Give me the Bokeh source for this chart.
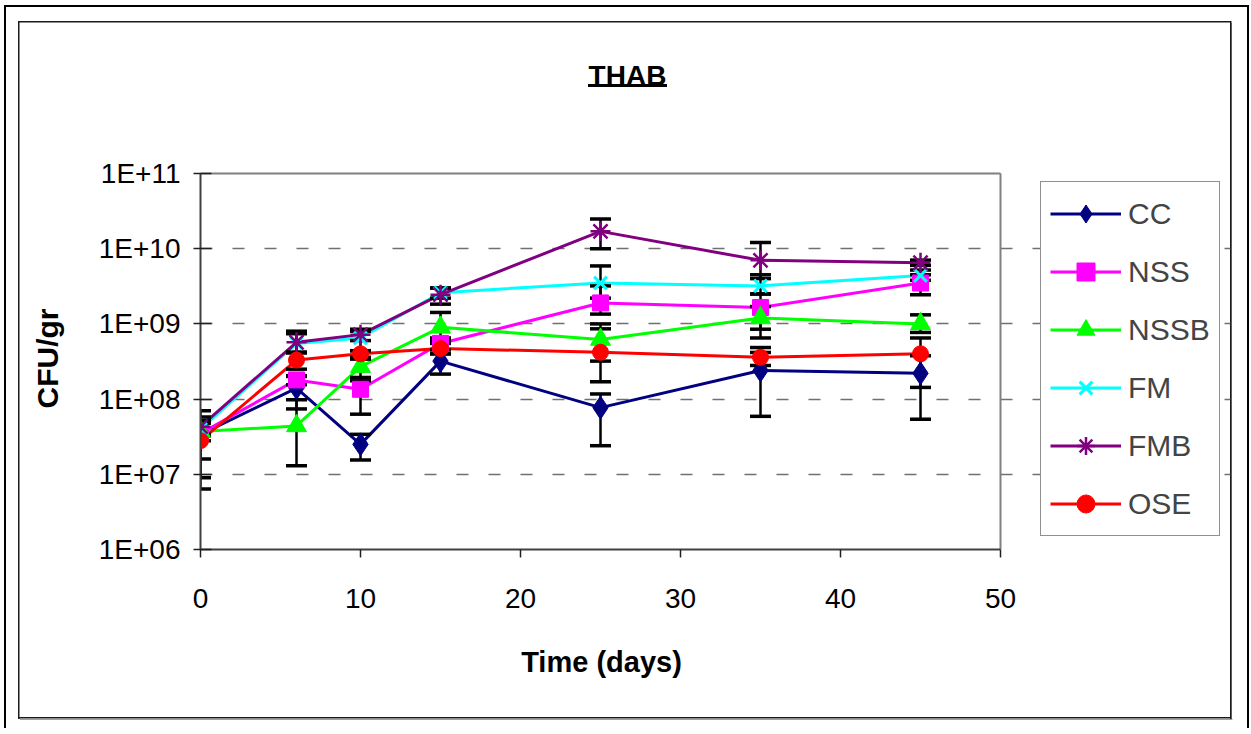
import math
from bokeh.plotting import figure
from bokeh.models import Range1d, FixedTicker, Legend, LegendItem, Label
from bokeh.embed import file_html
from bokeh.resources import INLINE

# ---------------- data ----------------
days = [0, 6, 10, 15, 25, 35, 45]

cc = [3.4e7, 1.4e8, 2.5e7, 3.2e8, 7.7e7, 2.4e8, 2.2e8]
nss = [3.5e7, 1.8e8, 1.35e8, 5.5e8, 1.9e9, 1.65e9, 3.5e9]
nssb = [3.7e7, 4.4e7, 2.7e8, 9.0e8, 6.2e8, 1.2e9, 1.0e9]
fm = [4.0e7, 5.5e8, 6.5e8, 2.6e9, 3.5e9, 3.2e9, 4.4e9]
fmb = [4.3e7, 5.7e8, 7.2e8, 2.45e9, 1.7e10, 7.0e9, 6.5e9]
ose = [2.8e7, 3.3e8, 4.0e8, 4.7e8, 4.2e8, 3.6e8, 4.0e8]

cc_lo = [1.6e7, 7.4e7, 1.55e7, 2.15e8, 2.4e7, 5.9e7, 5.4e7]
cc_hi = [5.8e7, 2.0e8, 3.4e7, 4.0e8, 1.17e8, 4.17e8, 3.77e8]
nss_lo = [9.0e6, 1.55e8, 6.3e7, 4.5e8, 1.35e9, 8.5e8, 2.44e9]
nss_hi = [7.0e7, 2.05e8, 1.94e8, 6.5e8, 3.2e9, 2.5e9, 4.5e9]
nssb_lo = [2.8e7, 1.3e7, 1.75e8, 6.0e8, 3.2e8, 6.5e8, 7.7e8]
nssb_hi = [4.8e7, 9.8e7, 3.4e8, 1.42e9, 1.0e9, 1.7e9, 1.32e9]
fm_lo = [3.2e7, 4.2e8, 4.4e8, 2.2e9, 2.2e9, 2.5e9, 3.8e9]
fm_hi = [4.8e7, 7.4e8, 8.0e8, 3.0e9, 5.9e9, 4.5e9, 5.2e9]
fmb_lo = [3.4e7, 4.1e8, 6.0e8, 1.83e9, 1.0e10, 4.0e9, 6.0e9]
fmb_hi = [5.2e7, 8.0e8, 8.5e8, 3.0e9, 2.48e10, 1.21e10, 7.05e9]
ose_lo = [6.4e6, 2.5e8, 3.6e8, 4.0e8, 1.7e8, 2.8e8, 1.43e8]
ose_hi = [5.0e7, 4.2e8, 4.4e8, 5.5e8, 8.6e8, 4.85e8, 6.5e8]

series_names = ["CC", "NSS", "NSSB", "FM", "FMB", "OSE"]
x_ticks = [0, 10, 20, 30, 40, 50]
x_min, x_max = 0, 50
y_ticks = [1e6, 1e7, 1e8, 1e9, 1e10, 1e11]
y_tick_labels = ["1E+06", "1E+07", "1E+08", "1E+09", "1E+10", "1E+11"]
y_min, y_max = 1e6, 1e11
title_text = "THAB"
x_title = "Time (days)"
y_title = "CFU/gr"

# ---------------- layout / styles ----------------
FONT = "Liberation Sans"
W, H = 1250, 728
PLOT_L, PLOT_R, PLOT_T, PLOT_B = 200, 1000, 173, 549   # axes box in page pixels
FRAME_R, FRAME_T = 1230, 40                            # frame extended to hold legend/title
px_per_x = (PLOT_R - PLOT_L) / (x_max - x_min)
px_per_dec = (PLOT_B - PLOT_T) / 5.0
x_end = x_min + (FRAME_R - PLOT_L) / px_per_x
y_end = y_max * 10 ** ((PLOT_T - FRAME_T) / px_per_dec)

styles = [
    dict(color="#000080", marker="diamond", size=23, lw=0),
    dict(color="#FF00FF", marker="square", size=16, lw=0),
    dict(color="#00FF00", marker="triangle", size=20, lw=0),
    dict(color="#00FFFF", marker="x", size=18, lw=3),
    dict(color="#800080", marker="asterisk", size=20, lw=2.5),
    dict(color="#FF0000", marker="circle", size=16, lw=0),
]
values = [cc, nss, nssb, fm, fmb, ose]
lows = [cc_lo, nss_lo, nssb_lo, fm_lo, fmb_lo, ose_lo]
highs = [cc_hi, nss_hi, nssb_hi, fm_hi, fmb_hi, ose_hi]

p = figure(width=W, height=H,
           x_range=Range1d(x_min, x_end), y_range=Range1d(y_min, y_end),
           y_axis_type="log", output_backend="svg", toolbar_location=None,
           min_border_left=PLOT_L, min_border_right=W - FRAME_R,
           min_border_top=FRAME_T, min_border_bottom=H - PLOT_B)
p.background_fill_color = None
p.border_fill_color = None
p.outline_line_color = None

# decorative frame lines / title underline painted behind the transparent canvas
rects = [
    (4, 5, 2, 760, "#000000"),      # outer frame left
    (4, 5, 1245, 2, "#000000"),     # outer frame top
    (1247, 5, 2, 760, "#000000"),   # outer frame right
    (18, 21, 1213, 1.5, "#1a1a1a"),  # chart area top
    (18, 21, 1.5, 698, "#1a1a1a"),   # chart area left
    (1229.5, 21, 1.5, 698, "#1a1a1a"),  # chart area right
    (18, 717, 1213, 1.5, "#1a1a1a"),    # chart area bottom
    (1231, 22.5, 1, 697, "#a0a0a0"),    # shadow right
    (19.5, 718.5, 1212.5, 1, "#a0a0a0"),  # shadow bottom
    (588, 84, 79, 3, "#000000"),     # title underline
]
p.styles = {
    "background-color": "white",
    "background-image": ", ".join(f"linear-gradient({c}, {c})" for *_, c in rects),
    "background-position": ", ".join(f"{x}px {y}px" for x, y, *_ in rects),
    "background-size": ", ".join(f"{w}px {h}px" for _, _, w, h, _ in rects),
    "background-repeat": "no-repeat",
}

# axes
p.xaxis.ticker = FixedTicker(ticks=x_ticks, minor_ticks=[])
p.yaxis.ticker = FixedTicker(ticks=y_ticks, minor_ticks=[])
p.yaxis.major_label_overrides = dict(zip(y_ticks, y_tick_labels))
p.xaxis.bounds = (x_min, x_max)
p.yaxis.bounds = (y_min, y_max)
for ax in (p.xaxis[0], p.yaxis[0]):
    ax.axis_line_color = "#404040"
    ax.axis_line_width = 2
    ax.major_tick_line_color = "#202020"
    ax.major_tick_line_width = 1.5
    ax.minor_tick_line_color = None
    ax.major_label_text_font = FONT
    ax.major_label_text_font_size = "28px"
    ax.major_label_text_color = "black"
p.xaxis.major_tick_in = 0
p.xaxis.major_tick_out = 8
p.xaxis.major_label_standoff = 31
p.yaxis.major_tick_in = 11
p.yaxis.major_tick_out = 7
p.yaxis.major_label_standoff = 13

p.xgrid.grid_line_color = None
p.ygrid.ticker = FixedTicker(ticks=y_ticks[1:-1], minor_ticks=[])
p.ygrid.bounds = (x_min, x_max)
p.ygrid.grid_line_color = "#707070"
p.ygrid.grid_line_width = 1.5
p.ygrid.grid_line_dash = "12 20"

# top and right border of the axes box
p.segment(x0=[x_min, x_max], y0=[y_max, y_min], x1=[x_max, x_max], y1=[y_max, y_max],
          line_color="#808080", line_width=2)

# lines
line_rs = []
for vals, st in zip(values, styles):
    line_rs.append(p.line(days, vals, line_color=st["color"], line_width=3))

# error bars
for lo, hi in zip(lows, highs):
    p.segment(x0=days, y0=lo, x1=days, y1=hi, line_color="black", line_width=2.5)
    p.scatter(days, lo, marker="dash", size=21, line_color="black", line_width=3.5)
    p.scatter(days, hi, marker="dash", size=21, line_color="black", line_width=3.5)

# markers
mark_rs = []
for vals, st in zip(values, styles):
    if st["lw"]:
        r = p.scatter(days, vals, marker=st["marker"], size=st["size"],
                      line_color=st["color"], line_width=st["lw"], fill_color=st["color"])
    else:
        r = p.scatter(days, vals, marker=st["marker"], size=st["size"],
                      line_color=st["color"], fill_color=st["color"])
    mark_rs.append(r)

legend = Legend(items=[LegendItem(label=n, renderers=[lr, mr])
                       for n, lr, mr in zip(series_names, line_rs, mark_rs)],
                location=(840, 13), margin=0, padding=9, spacing=13,
                glyph_width=71, glyph_height=45, label_height=45, label_standoff=7,
                label_text_font=FONT, label_text_font_size="30px",
                border_line_color="#222222", border_line_width=1.5,
                background_fill_color="white", background_fill_alpha=1)
p.add_layout(legend)

# title
p.add_layout(Label(x=627, y=75, x_units="canvas", y_units="canvas", text=title_text,
                   text_align="center", text_baseline="alphabetic",
                   text_font=FONT, text_font_size="28px", text_font_style="bold",
                   text_color="black"))

# axis titles, centred on the axes box
p.add_layout(Label(x=(PLOT_L + PLOT_R) / 2 + 1, y=661, x_units="canvas", y_units="canvas",
                   text=x_title, text_align="center", text_baseline="alphabetic",
                   text_font=FONT, text_font_size="29px", text_font_style="bold",
                   text_color="black"), "below")
p.add_layout(Label(x=47, y=(PLOT_T + PLOT_B) / 2 - 3, x_units="canvas", y_units="canvas",
                   text=y_title, text_align="center", text_baseline="middle",
                   angle=math.pi / 2,
                   text_font=FONT, text_font_size="30px", text_font_style="bold",
                   text_color="black"), "left")

open("out.html", "w").write(file_html(p, INLINE))
